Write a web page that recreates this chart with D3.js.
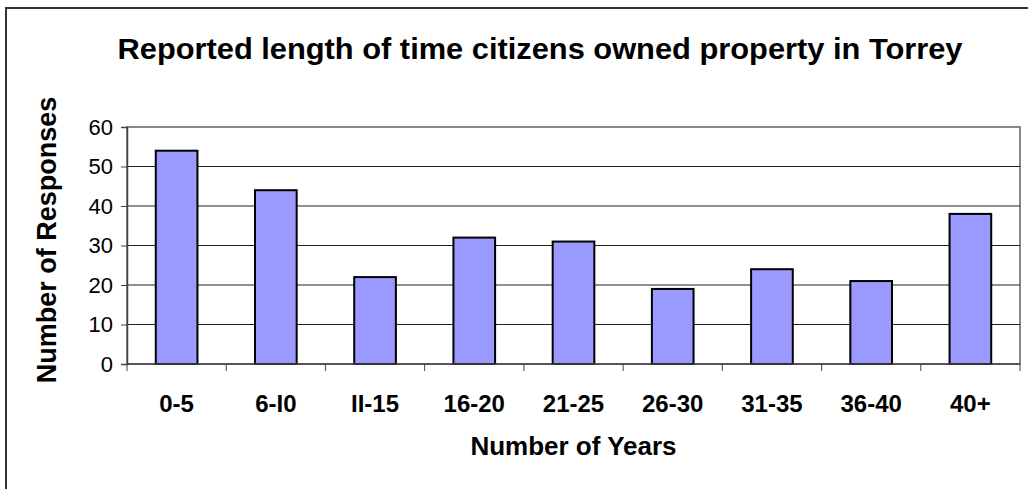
<!DOCTYPE html>
<html>
<head>
<meta charset="utf-8">
<script src="https://cdn.jsdelivr.net/npm/d3@7"></script>
<style>
  body { margin: 0; background: #fff; }
  svg { display: block; font-family: Arial, "Liberation Sans", sans-serif; }
</style>
</head>
<body>
<svg id="chart" width="1028" height="489"></svg>
<script>
// Data
var categories = ["0-5", "6-I0", "II-15", "16-20", "21-25", "26-30", "31-35", "36-40", "40+"];
var responses = [54, 44, 22, 32, 31, 19, 24, 21, 38];
var yTicks = [0, 10, 20, 30, 40, 50, 60];

var svg = d3.select("#chart");

// Plot area box
var plot = { left: 127, right: 1020, top: 127, bottom: 364 };

// Outer chart frame (only top and left visible in the crop)
svg.append("rect")
  .attr("x", 6).attr("y", 8)
  .attr("width", 1100).attr("height", 600)
  .attr("fill", "none")
  .attr("stroke", "#333")
  .attr("stroke-width", 2);

var x = d3.scaleBand()
  .domain(categories)
  .range([plot.left, plot.right])
  .paddingInner(0.58)
  .paddingOuter(0.29);

var y = d3.scaleLinear()
  .domain([0, 60])
  .range([plot.bottom, plot.top]);

// Plot area border
svg.append("rect")
  .attr("x", plot.left).attr("y", plot.top)
  .attr("width", plot.right - plot.left)
  .attr("height", plot.bottom - plot.top)
  .attr("fill", "none")
  .attr("stroke", "#888")
  .attr("stroke-width", 2);

// Gridlines
svg.append("g")
  .selectAll("line")
  .data(yTicks.filter(d => d > 0 && d < 60))
  .join("line")
  .attr("x1", plot.left).attr("x2", plot.right)
  .attr("y1", d => y(d)).attr("y2", d => y(d))
  .attr("stroke", "#222")
  .attr("stroke-width", 1.2);

// Bars
svg.append("g")
  .selectAll("rect")
  .data(responses)
  .join("rect")
  .attr("x", (d, i) => x(categories[i]))
  .attr("y", d => y(d))
  .attr("width", x.bandwidth())
  .attr("height", d => y(0) - y(d))
  .attr("fill", "#9999ff")
  .attr("stroke", "#000")
  .attr("stroke-width", 2);

// Y axis
var yAxis = svg.append("g")
  .attr("transform", "translate(" + plot.left + ",0)")
  .call(d3.axisLeft(y).tickValues(yTicks).tickSize(6).tickPadding(8));
yAxis.select(".domain").attr("stroke", "#444").attr("stroke-width", 1.5);
yAxis.selectAll(".tick line").attr("stroke", "#444");
yAxis.selectAll("text")
  .attr("font-size", 22)
  .attr("font-family", "Arial, 'Liberation Sans', sans-serif")
  .attr("fill", "#000");

// X axis: ticks sit on category boundaries, as in Excel
var xAxis = svg.append("g")
  .attr("transform", "translate(0," + plot.bottom + ")");
xAxis.append("line")
  .attr("x1", plot.left).attr("x2", plot.right)
  .attr("stroke", "#444").attr("stroke-width", 1.5);
xAxis.selectAll("line.tk")
  .data(d3.range(categories.length + 1))
  .join("line")
  .attr("class", "tk")
  .attr("x1", i => plot.left + i * (plot.right - plot.left) / categories.length)
  .attr("x2", i => plot.left + i * (plot.right - plot.left) / categories.length)
  .attr("y1", 0).attr("y2", 7)
  .attr("stroke", "#444");
xAxis.selectAll("text")
  .data(categories)
  .join("text")
  .attr("x", d => x(d) + x.bandwidth() / 2)
  .attr("y", 48)
  .attr("text-anchor", "middle")
  .attr("font-size", 24)
  .attr("font-weight", "bold")
  .text(d => d);

// Titles
svg.append("text")
  .attr("x", 540).attr("y", 59)
  .attr("text-anchor", "middle")
  .attr("font-size", 30)
  .attr("font-weight", "bold")
  .attr("textLength", 845)
  .attr("lengthAdjust", "spacingAndGlyphs")
  .text("Reported length of time citizens owned property in Torrey");

svg.append("text")
  .attr("x", (plot.left + plot.right) / 2).attr("y", 455)
  .attr("text-anchor", "middle")
  .attr("font-size", 26)
  .attr("font-weight", "bold")
  .text("Number of Years");

svg.append("text")
  .attr("transform", "translate(56,240) rotate(-90)")
  .attr("text-anchor", "middle")
  .attr("font-size", 27)
  .attr("font-weight", "bold")
  .text("Number of Responses");
</script>
</body>
</html>
